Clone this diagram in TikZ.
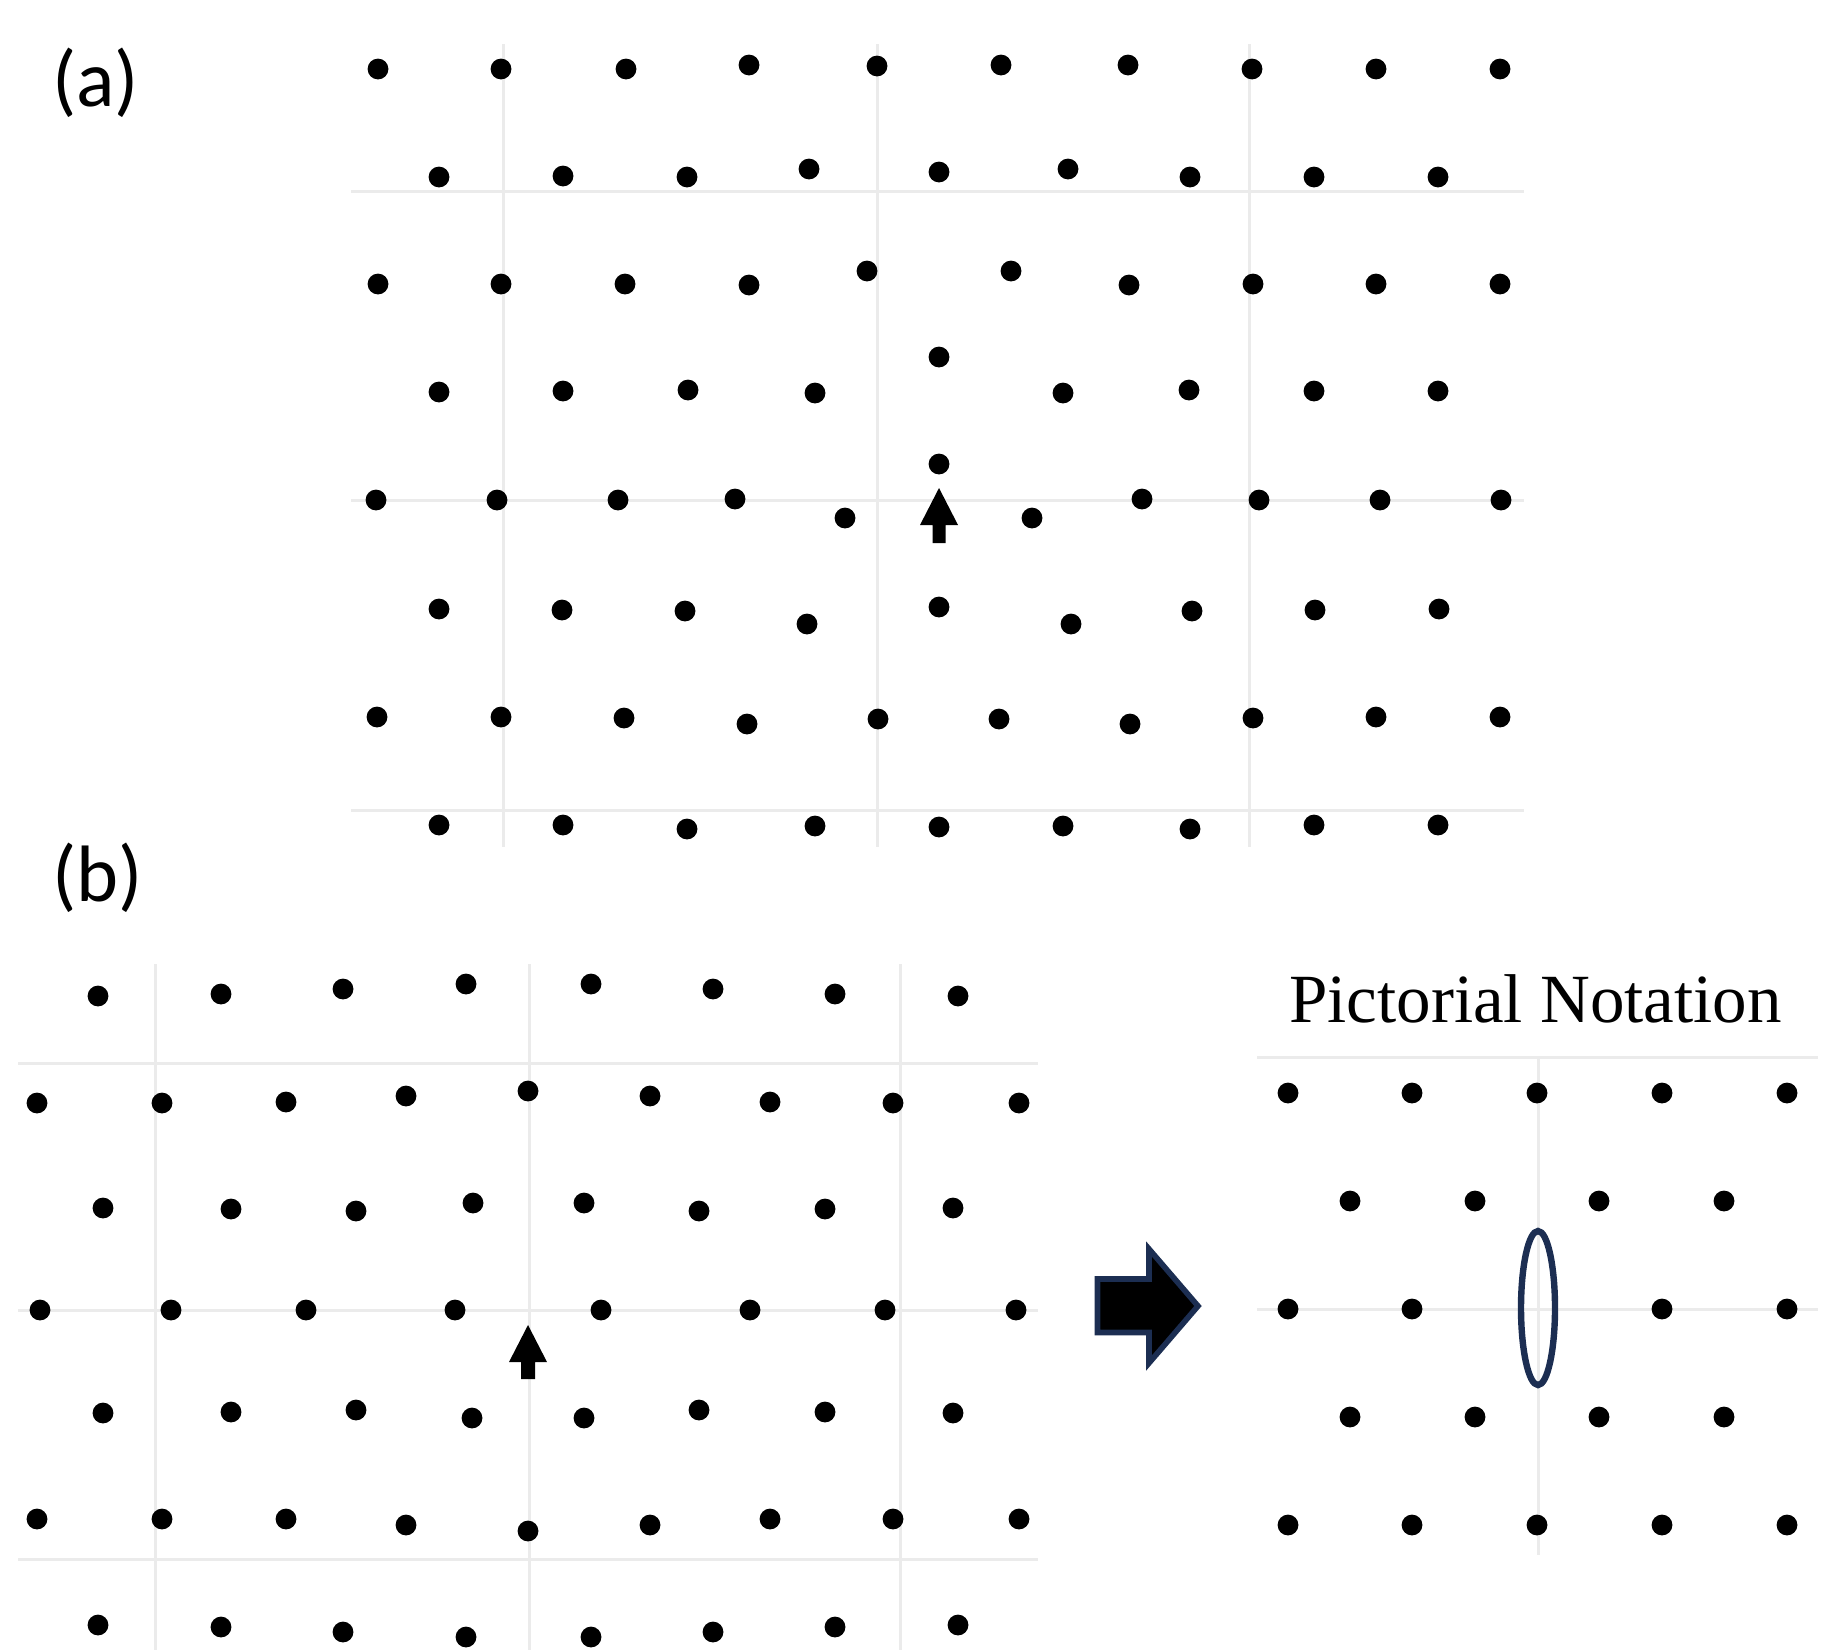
\documentclass[tikz,border=0pt]{standalone}
\usepackage{fontspec}
\setmainfont{Liberation Serif}
\newfontfamily\labelfont{Carlito}
\definecolor{gridgray}{RGB}{235,235,235}
\definecolor{navy}{RGB}{28,46,82}

\begin{document}
\begin{tikzpicture}[x=0.5pt, y=-0.5pt,
    gridline/.style={line width=1.5pt, gridgray},
    atom/.style={fill=black},
    panellabel/.style={font=\labelfont\fontsize{40}{48}\selectfont, inner sep=0pt, anchor=base west}]
    \useasboundingbox (0,0) rectangle (1824,1650);

    % (a) lattice with the defect
    \node[panellabel] (labela) at (52,106) {(a)};
    \foreach \y in {191,500,810} \draw[gridline] (351,\y) -- (1524,\y);
    \foreach \x in {503,877,1249} \draw[gridline] (\x,44) -- (\x,847);
    \foreach \x/\y in {378/69, 501/69, 626/69, 749/65, 877/66, 1001/65, 1128/65, 1252/69, 1376/69, 1500/69,
        439/177, 563/176, 687/177, 809/169, 939/172, 1068/169, 1190/177, 1314/177, 1438/177,
        378/284, 501/284, 625/284, 749/285, 867/271, 1011/271, 1129/285, 1253/284, 1376/284, 1500/284,
        439/392, 563/391, 688/390, 815/393, 939/357, 1063/393, 1189/390, 1314/391, 1438/391,
        939/464,
        376/500, 497/500, 618/500, 735/499, 845/518, 1032/518, 1142/499, 1259/500, 1380/500, 1501/500,
        439/609, 562/610, 685/611, 807/624, 939/607, 1071/624, 1192/611, 1315/610, 1439/609,
        377/717, 501/717, 624/718, 747/724, 878/719, 999/719, 1130/724, 1253/718, 1376/717, 1500/717,
        439/825, 563/825, 687/829, 815/826, 939/827, 1063/826, 1190/829, 1314/825, 1438/825}
        \fill[atom] (\x,\y) circle[radius=5.2pt];
    \fill (939,488) -- (958,525) -- (945.5,525) -- (945.5,543) -- (932.5,543) -- (932.5,525) -- (920,525) -- cycle;

    % (b) relaxed lattice
    \node[panellabel] (labelb) at (52,901) {(b)};
    \foreach \y in {1063,1310,1559} \draw[gridline] (18,\y) -- (1038,\y);
    \foreach \x in {155,529,900} \draw[gridline] (\x,964) -- (\x,1650);
    \foreach \x/\y in {98/996, 221/994, 343/989, 466/984, 591/984, 713/989, 835/994, 958/996,
        37/1103, 162/1103, 286/1102, 406/1096, 528/1091, 650/1096, 770/1102, 893/1103, 1019/1103,
        103/1208, 231/1209, 356/1211, 473/1203, 584/1203, 699/1211, 825/1209, 953/1208,
        40/1310, 171/1310, 306/1310, 455/1310, 601/1310, 750/1310, 885/1310, 1016/1310,
        103/1413, 231/1412, 356/1410, 472/1418, 584/1418, 699/1410, 825/1412, 953/1413,
        37/1519, 162/1519, 286/1519, 406/1525, 528/1531, 650/1525, 770/1519, 893/1519, 1019/1519,
        98/1625, 221/1627, 343/1632, 466/1637, 591/1637, 713/1632, 835/1627, 958/1625}
        \fill[atom] (\x,\y) circle[radius=5.2pt];
    \fill (528,1325) -- (547,1362) -- (535,1362) -- (535,1379) -- (521,1379) -- (521,1362) -- (509,1362) -- cycle;

    % block arrow
    \draw[navy, line width=2.8pt, fill=black, line join=miter]
        (1097.5,1279) -- (1149,1279) -- (1149,1249) -- (1198,1306) -- (1149,1363) -- (1149,1332.5) -- (1097.5,1332.5) -- cycle;

    % pictorial notation
    \node[font=\fontsize{34.5}{40}\selectfont, inner sep=0pt, anchor=base] (notation) at (1535.5,1022.7) {Pictorial Notation};
    \foreach \y in {1057,1309} \draw[gridline] (1257,\y) -- (1818,\y);
    \draw[gridline] (1538,1057) -- (1538,1555);
    \foreach \x in {1288,1412,1537,1662,1787} {
        \fill[atom] (\x,1093) circle[radius=5.2pt];
        \fill[atom] (\x,1525) circle[radius=5.2pt];
    }
    \foreach \x in {1288,1412,1662,1787} \fill[atom] (\x,1309) circle[radius=5.2pt];
    \foreach \x in {1350,1475,1599,1724} {
        \fill[atom] (\x,1201) circle[radius=5.2pt];
        \fill[atom] (\x,1417) circle[radius=5.2pt];
    }
    \draw[navy, line width=3.2pt] (1538,1308) ellipse[x radius=8.5pt, y radius=38.5pt];
\end{tikzpicture}
\end{document}
